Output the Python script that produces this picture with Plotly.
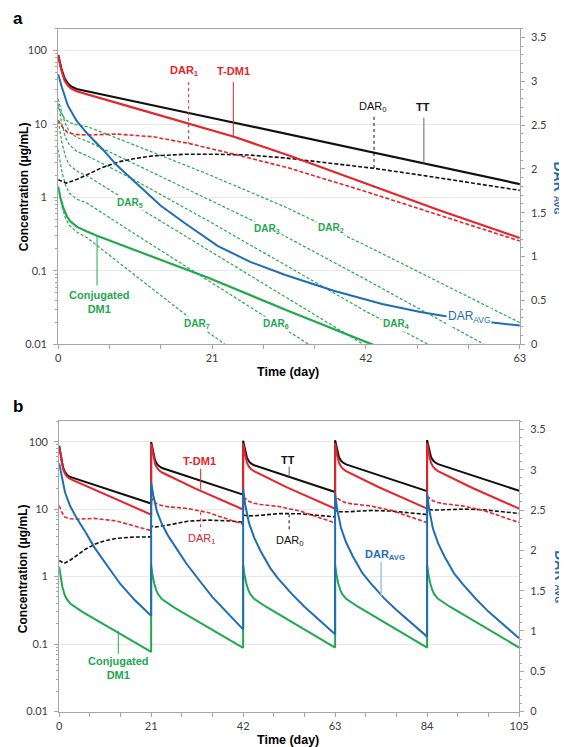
import math
import plotly.graph_objects as go

W, H = 567, 747

# ================= Panel a : single dose =================
a_tt_t = [0, 0.44, 0.89, 1.33, 1.78, 2.5, 21, 42, 63]
a_tt = [87, 56, 41.5, 35.5, 32.4, 30, 12.1, 4.3, 1.52]

a_tdm1_t = [0, 0.44, 0.89, 1.33, 1.78, 2.5, 10, 17.8, 24, 31.6, 42, 52, 63]
a_tdm1 = [85, 54, 39, 33.5, 30.5, 28, 17, 10.2, 6.7, 3.7, 1.55, 0.67, 0.28]

a_dar1_t = [0, 0.5, 1.3, 2.5, 4, 8, 13, 17.8, 24.4, 31.6, 42, 52, 63]
a_dar1 = [11.3, 9.3, 7.6, 7.2, 7.1, 7.3, 6.7, 5.45, 3.8, 2.5, 1.2, 0.58, 0.255]

a_dar0_t = [0, 1.1, 2.5, 4, 6, 8.4, 10.5, 12.9, 17.3, 21.8, 26.2, 31, 37, 43, 50, 56, 63]
a_dar0 = [1.74, 1.57, 1.75, 2.04, 2.55, 3.08, 3.4, 3.68, 3.87, 3.87, 3.78, 3.45, 2.95, 2.5, 1.98, 1.6, 1.25]

a_dm1_t = [0, 0.3, 0.7, 1.2, 1.6, 2.5, 4, 5.3, 20.4, 31.6, 42.9, 46]
a_dm1 = [1.4, 1.0, 0.72, 0.55, 0.48, 0.40, 0.34, 0.30, 0.081, 0.028, 0.0099, 0.0075]

a_green_t = [0, 0.5, 1, 1.5, 2.5, 4, 10, 20, 31, 42, 52, 63]
a_dar2 = [17, 13.5, 11.5, 10.5, 9.8, 9.2, 5.37, 2.16, 0.74, 0.221, 0.07, 0.0197]
a_dar3 = [21.9, 14.1, 10, 7.9, 6.6, 5.8, 3.0, 1.0, 0.295, 0.076, 0.0214, 0.0054]
a_dar4 = [19, 10, 6.6, 5.25, 4.27, 3.67, 1.82, 0.51, 0.12, 0.028, 0.0083, 0.002]
a_dar5 = [11, 5.6, 3.6, 2.8, 2.3, 1.95, 0.83, 0.204, 0.0437, 0.0095, 0.0025, 0.0006]
a_dar6 = [4.5, 2.24, 1.48, 1.15, 0.95, 0.83, 0.34, 0.079, 0.0158, 0.0032, 0.0007, 0.00015]
a_dar7 = [1.4, 0.76, 0.52, 0.42, 0.34, 0.28, 0.095, 0.0158, 0.0025, 0.0004, 0.0001, 0.00002]

a_davg_t = [0, 0.5, 1.33, 2.5, 4, 6.2, 8, 11.1, 14, 17.3, 21.8, 26.2, 31, 37.6, 44.2, 49.6, 53.1, 58.9, 63]
a_davg = [3.08, 2.93, 2.72, 2.55, 2.40, 2.21, 2.04, 1.80, 1.58, 1.38, 1.12, 0.94, 0.79, 0.61, 0.46, 0.365, 0.316, 0.25, 0.215]

# ================= Panel b : every 21 days =================
b_tt_t = [0, 0.44, 0.89, 1.33, 1.78, 2.5, 21,
          21, 21.44, 21.89, 22.33, 22.78, 23.5, 42,
          42, 42.44, 42.89, 43.33, 43.78, 44.5, 63,
          63, 63.44, 63.89, 64.33, 64.78, 65.5, 84,
          84, 84.44, 84.89, 85.33, 85.78, 86.5, 105]
b_tt = [87, 56, 41.5, 35.5, 32.4, 30, 12.1,
        99, 67.8, 53.1, 46.9, 43.5, 40.7, 16.4,
        103.4, 72, 57.3, 51.1, 47.7, 44.7, 17.95,
        105, 73.5, 58.7, 52.4, 49, 46, 18.5,
        105.5, 74.1, 59.3, 52.9, 49.5, 46.5, 18.7]

b_tdm1_t = [0, 0.44, 0.89, 1.33, 1.78, 2.5, 10, 21,
            21, 21.44, 21.89, 22.33, 22.78, 23.5, 31, 42,
            42, 42.44, 42.89, 43.33, 43.78, 44.5, 52, 63,
            63, 63.44, 63.89, 64.33, 64.78, 65.5, 73, 84,
            84, 84.44, 84.89, 85.33, 85.78, 86.5, 94, 105]
b_tdm1 = [85, 54, 39, 33.5, 30.5, 28, 17, 8.3,
          93.3, 62, 46.8, 41, 37.8, 34.9, 20.3, 9.87,
          94.9, 63.6, 48.4, 42.6, 39.4, 36.5, 21, 10.15,
          95.2, 64, 48.6, 42.8, 39.6, 36.7, 21.1, 10.2,
          95.2, 64, 48.6, 42.8, 39.6, 36.7, 21.1, 10.2]

b_dar1_t = [0, 0.5, 1.3, 2.5, 4, 8, 13, 17.8, 21,
            21, 21.5, 22.3, 23.5, 25, 29, 34, 38.8, 42,
            42, 42.5, 43.3, 44.5, 46, 50, 55, 59.8, 63,
            63, 63.5, 64.3, 65.5, 67, 71, 76, 80.8, 84,
            84, 84.5, 85.3, 86.5, 88, 92, 97, 101.8, 105]
b_dar1 = [11.3, 9.3, 7.6, 7.2, 7.1, 7.3, 6.7, 5.45, 4.8,
          14.5, 13.5, 12.0, 11.25, 10.8, 10.3, 8.9, 7.0, 6.0,
          15.2, 14.3, 13.05, 12.23, 11.72, 10.98, 9.37, 7.33, 6.26,
          15.6, 14.5, 13.3, 12.46, 11.94, 11.16, 9.51, 7.43, 6.32,
          15.6, 14.5, 13.35, 12.51, 11.99, 11.2, 9.54, 7.45, 6.34]

b_dar0_t = [0, 1.1, 2.5, 4, 6, 8.4, 10.5, 12.9, 17.3, 21,
            21, 22.1, 23.5, 25, 29.4, 33.9, 38.3, 42,
            42, 43.1, 44.5, 46, 50.4, 54.9, 59.3, 63,
            63, 64.1, 65.5, 67, 71.4, 75.9, 80.3, 84,
            84, 85.1, 86.5, 88, 92.4, 96.9, 101.3, 105]
b_dar0 = [1.74, 1.57, 1.75, 2.04, 2.55, 3.08, 3.4, 3.68, 3.87, 3.88,
          5.62, 5.43, 5.58, 5.84, 6.63, 6.88, 6.72, 6.43,
          8.19, 7.93, 7.98, 8.14, 8.6, 8.54, 8.14, 7.7,
          9.44, 9.13, 9.13, 9.24, 9.55, 9.36, 8.84, 8.32,
          10.06, 9.73, 9.7, 9.79, 10.03, 9.78, 9.2, 8.64]

b_dm1_t = [0, 0.3, 0.7, 1.2, 1.6, 2.5, 4, 5.3, 21,
           21, 21.3, 21.7, 22.2, 22.6, 23.5, 25, 26.3, 42,
           42, 42.3, 42.7, 43.2, 43.6, 44.5, 46, 47.3, 63,
           63, 63.3, 63.7, 64.2, 64.6, 65.5, 67, 68.3, 84,
           84, 84.3, 84.7, 85.2, 85.6, 86.5, 88, 89.3, 105]
b_dm1 = [1.4, 1.0, 0.72, 0.55, 0.48, 0.40, 0.34, 0.30, 0.077,
         1.48, 1.075, 0.793, 0.62, 0.547, 0.461, 0.393, 0.347, 0.088,
         1.49, 1.087, 0.804, 0.63, 0.556, 0.47, 0.40, 0.355, 0.089,
         1.49, 1.087, 0.804, 0.63, 0.556, 0.47, 0.40, 0.355, 0.089,
         1.49, 1.087, 0.804, 0.63, 0.556, 0.47, 0.40, 0.355, 0.089]

b_davg_t = [0, 0.5, 1.33, 2.5, 4, 6.2, 8, 11.1, 14, 17.3, 21,
            21, 21.5, 22.33, 23.5, 25, 27.2, 29, 32.1, 35, 38.3, 42,
            42, 42.5, 43.33, 44.5, 46, 48.2, 50, 53.1, 56, 59.3, 63,
            63, 63.5, 64.33, 65.5, 67, 69.2, 71, 74.1, 77, 80.3, 84,
            84, 84.5, 85.33, 86.5, 88, 90.2, 92, 95.1, 98, 101.3, 105]
b_davg = [3.08, 2.93, 2.72, 2.55, 2.40, 2.21, 2.04, 1.80, 1.58, 1.38, 1.19,
          2.84, 2.68, 2.48, 2.32, 2.17, 1.99, 1.84, 1.62, 1.42, 1.23, 1.02,
          2.76, 2.56, 2.34, 2.16, 1.99, 1.78, 1.65, 1.46, 1.30, 1.14, 0.96,
          2.71, 2.50, 2.28, 2.10, 1.93, 1.72, 1.60, 1.41, 1.26, 1.10, 0.93,
          2.71, 2.50, 2.27, 2.09, 1.92, 1.71, 1.59, 1.40, 1.24, 1.08, 0.91]

a_xticks = [0, 21, 42, 63]
b_xticks = [0, 21, 42, 63, 84, 105]
conc_ticks = [0.01, 0.1, 1, 10, 100]
conc_ticktext = ["0.01", "0.1", "1", "10", "100"]

# ================= styling =================
RED = '#E5242B'
GREEN = '#22A94F'
BLUE = '#1F6DB5'
BLACK = '#111111'
AXC = '#A6A6A6'
LAB = 'Liberation Sans, Arial, sans-serif'
TICKF = dict(family='Lato, Open Sans, sans-serif', size=11, color='#404040')

fig = go.Figure()


def px_x(X):
    return X / W


def px_y(Y):
    return 1 - Y / H


def add(x, y, color, xa, ya, dash='solid', width=2.0):
    fig.add_trace(go.Scatter(x=x, y=y, mode='lines',
                             line=dict(color=color, width=width, dash=dash),
                             xaxis=xa, yaxis=ya, showlegend=False,
                             hoverinfo='skip'))


GD = '3px,2px'
# panel a
for s in [a_dar2, a_dar3, a_dar4, a_dar5, a_dar6, a_dar7]:
    add(a_green_t, s, GREEN, 'x', 'y', GD, 1.2)
add(a_dar0_t, a_dar0, BLACK, 'x', 'y', '4px,2px', 1.6)
add(a_dar1_t, a_dar1, RED, 'x', 'y', '4px,2px', 1.6)
add(a_dm1_t, a_dm1, GREEN, 'x', 'y', 'solid', 2.2)
add(a_tt_t, a_tt, BLACK, 'x', 'y', 'solid', 2.2)
add(a_tdm1_t, a_tdm1, RED, 'x', 'y', 'solid', 2.2)
add(a_davg_t, a_davg, BLUE, 'x', 'y2', 'solid', 2.0)

# panel b
add(b_dar0_t, b_dar0, BLACK, 'x2', 'y3', '4px,2px', 1.6)
add(b_dar1_t, b_dar1, RED, 'x2', 'y3', '4px,2px', 1.6)
add(b_dm1_t, b_dm1, GREEN, 'x2', 'y3', 'solid', 2.0)
add(b_tt_t, b_tt, BLACK, 'x2', 'y3', 'solid', 2.0)
add(b_tdm1_t, b_tdm1, RED, 'x2', 'y3', 'solid', 2.0)
add(b_davg_t, b_davg, BLUE, 'x2', 'y4', 'solid', 2.0)


def xaxis(dom, rng, ticks, anchor):
    return dict(domain=dom, range=rng, tickvals=ticks, ticks='outside', ticklen=4,
                tickcolor=AXC, showline=True, linecolor=AXC, linewidth=1, mirror=True,
                showgrid=False, zeroline=False, anchor=anchor, tickfont=TICKF,
                minor=dict(dtick=7, tick0=0, ticks='outside', ticklen=4, tickcolor=AXC),
                fixedrange=True)


def ylog(dom, anchor):
    return dict(domain=dom, type='log', range=[-2, math.log10(200)], tickvals=conc_ticks,
                ticktext=conc_ticktext, ticks='outside', ticklen=4, tickcolor=AXC,
                showline=True, linecolor=AXC, linewidth=1, showgrid=True,
                gridcolor='#E9E9E9', gridwidth=1, zeroline=False, anchor=anchor,
                tickfont=TICKF, ticklabelstandoff=4,
                minor=dict(tickmode='linear', dtick='D1', ticks='outside', ticklen=2,
                           tickcolor=AXC, showgrid=False),
                fixedrange=True)


def yright(over, anchor):
    return dict(overlaying=over, side='right', anchor=anchor, range=[0, 3.6], tick0=0,
                dtick=0.5, ticks='outside', ticklen=4, tickcolor=AXC, showline=True,
                linecolor=AXC, linewidth=1, showgrid=False, zeroline=False,
                tickfont=TICKF, ticklabelstandoff=4,
                minor=dict(dtick=0.1, tick0=0, ticks='outside', ticklen=2, tickcolor=AXC),
                fixedrange=True)


fig.update_layout(
    width=W, height=H, margin=dict(l=0, r=0, t=0, b=0),
    paper_bgcolor='white', plot_bgcolor='white', showlegend=False,
    xaxis=xaxis([px_x(48.3), px_x(520.8)], [0, 63], a_xticks, 'y'),
    yaxis=ylog([px_y(339), px_y(20.7)], 'x'),
    yaxis2=yright('y', 'x'),
    xaxis2=xaxis([px_x(49.3), px_x(520)], [0, 105], b_xticks, 'y3'),
    yaxis3=ylog([px_y(709.3), px_y(416.7)], 'x2'),
    yaxis4=yright('y3', 'x2'),
)

L = math.log10
ann = []


def lab(text, x, y, xref, yref, color, size=11, bold=True, bg=None):
    t = f'<b>{text}</b>' if bold else text
    d = dict(text=t, x=x, y=y, xref=xref, yref=yref, showarrow=False,
             font=dict(family=LAB, size=size, color=color), xanchor='center', yanchor='middle')
    if bg:
        d.update(bgcolor=bg, borderpad=1)
    ann.append(d)


def paper(text, X, Y, size, color='black', angle=0, bold=True):
    t = f'<b>{text}</b>' if bold else text
    ann.append(dict(text=t, x=px_x(X), y=px_y(Y), xref='paper', yref='paper',
                    showarrow=False, textangle=angle,
                    font=dict(family=LAB, size=size, color=color),
                    xanchor='center', yanchor='middle'))


# panel a labels
lab('DAR<sub>1</sub>', 17.3, L(52), 'x', 'y', RED)
lab('T-DM1', 23.9, L(52), 'x', 'y', RED)
lab('DAR<sub>0</sub>', 43.0, L(17.1), 'x', 'y', BLACK, bold=False)
lab('TT', 49.8, L(17.1), 'x', 'y', BLACK)
lab('DAR<sub>5</sub>', 9.8, L(0.845), 'x', 'y', GREEN, 10, True, 'white')
lab('DAR<sub>3</sub>', 28.5, L(0.37), 'x', 'y', GREEN, 10, True, 'white')
lab('DAR<sub>2</sub>', 37.2, L(0.382), 'x', 'y', GREEN, 10, True, 'white')
lab('DAR<sub>7</sub>', 18.9, L(0.0186), 'x', 'y', GREEN, 10, True, 'white')
lab('DAR<sub>6</sub>', 29.7, L(0.0186), 'x', 'y', GREEN, 10, True, 'white')
lab('DAR<sub>4</sub>', 46.1, L(0.0186), 'x', 'y', GREEN, 10, True, 'white')
lab('Conjugated<br>DM1', 5.65, L(0.038), 'x', 'y', GREEN, 11)
lab('DAR<sub>AVG</sub>', 56.1, 0.316, 'x', 'y2', BLUE, 12, False, 'white')

# panel b labels
lab('T-DM1', 32.1, L(52.1), 'x2', 'y3', RED)
lab('TT', 52.2, L(54), 'x2', 'y3', BLACK)
lab('DAR<sub>1</sub>', 32.5, L(3.62), 'x2', 'y3', RED, 11, False)
lab('DAR<sub>0</sub>', 52.6, L(3.42), 'x2', 'y3', BLACK, 11, False)
lab('DAR<sub>AVG</sub>', 74.5, 1.945, 'x2', 'y4', BLUE, 11)
lab('Conjugated<br>DM1', 13.5, L(0.0442), 'x2', 'y3', GREEN, 11)

# panel letters and axis titles
paper('a', 7, 11, 17)
paper('b', 7, 402, 17)
for yc in (180, 565):
    paper('Concentration (μg/mL)', 13, yc, 12, 'black', -90)
paper('Time (day)', 284, 367, 12.5)
paper('Time (day)', 284, 738, 12.5)
paper('DAR <span style="font-size:9px">AVG</span>', 561, 181, 14, BLUE, 90)
paper('DAR <span style="font-size:9px">AVG</span>', 561, 573, 14, BLUE, 90)

fig.update_layout(annotations=ann)

# leader lines (shape y in data values)
shapes = []


def leader(x, v0, v1, xref, yref, color, dash='solid', width=1):
    shapes.append(dict(type='line', x0=x, x1=x, y0=v0, y1=v1, xref=xref, yref=yref,
                       line=dict(color=color, width=width, dash=dash)))


leader(17.8, 37.2, 5.45, 'x', 'y', RED, 'dot')
leader(23.9, 37.2, 6.8, 'x', 'y', RED)
leader(43.1, 12.5, 2.5, 'x', 'y', BLACK, 'dot')
leader(49.9, 12.2, 2.9, 'x', 'y', '#666666')
leader(5.3, 0.30, 0.063, 'x', 'y', GREEN)

leader(32.3, 39.8, 19.6, 'x2', 'y3', RED)
leader(52.5, 42.6, 30.5, 'x2', 'y3', '#666666')
leader(32.3, 9.0, 4.74, 'x2', 'y3', RED, 'dot')
leader(52.5, 8.4, 4.58, 'x2', 'y3', BLACK, 'dot')
leader(73.5, 1.86, 1.43, 'x2', 'y4', '#9DC3E6', 'solid', 1.5)
leader(13.5, 0.155, 0.072, 'x2', 'y3', GREEN)

fig.update_layout(shapes=shapes)

fig.write_html("out.html", config={'displayModeBar': False, 'staticPlot': True})
